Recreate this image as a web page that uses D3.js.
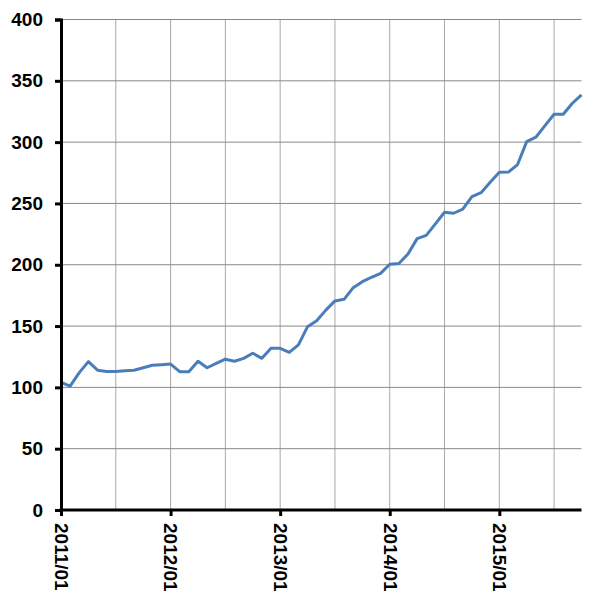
<!DOCTYPE html>
<html>
<head>
<meta charset="utf-8">
<script src="https://cdn.jsdelivr.net/npm/d3@7"></script>
<style>
  html, body { margin: 0; padding: 0; background: #fff; }
  svg { display: block; }
  text { font-family: Arial, "Liberation Sans", sans-serif; font-weight: bold; fill: #000; }
</style>
</head>
<body>
<svg id="chart" width="593" height="603"></svg>
<script>
// ---- data ----
const months = [];
for (let yr = 2011; yr <= 2015; yr++) {
  for (let m = 1; m <= 12; m++) {
    if (yr === 2015 && m > 10) break;
    months.push(yr + "/" + String(m).padStart(2, "0"));
  }
}
const values = [
  104, 101, 112, 121, 114, 113, 113, 113.6, 114, 116, 118, 118.5, 119,
  112.8, 112.8, 121.3, 116, 119.6, 123, 121.3, 123.7, 127.8, 123.7, 131.9,
  131.9, 128.6, 134.6, 149.5, 154.4, 163, 170.5, 171.8, 181.3, 186.2, 189.8,
  193, 200.4, 201, 208.8, 221.3, 224, 233.3, 242.8, 242, 245.3, 255.6, 258.8,
  267.3, 275.4, 275.6, 281.7, 300.4, 304, 313.5, 322.7, 322.7, 331.7, 338.6
];
const yTicks = [0, 50, 100, 150, 200, 250, 300, 350, 400];
const xLabels = ["2011/01", "2012/01", "2013/01", "2014/01", "2015/01"];
const xGrid = months.filter((d, i) => i % 6 === 0 && i > 0);

// ---- layout ----
const mLeft = 61, mRight = 581.5, mTop = 19.5, mBottom = 510;
const svg = d3.select("#chart");

const x = d3.scalePoint().domain(months).range([mLeft, mRight]);
const y = d3.scaleLinear().domain([0, 400]).range([mBottom, mTop]);

// vertical gridlines
svg.append("g").selectAll("line").data(xGrid).join("line")
  .attr("x1", d => x(d)).attr("x2", d => x(d))
  .attr("y1", mTop).attr("y2", mBottom)
  .attr("stroke", "#a8a8a8").attr("stroke-width", 1);

// horizontal gridlines
svg.append("g").selectAll("line").data(yTicks.filter(d => d > 0)).join("line")
  .attr("x1", mLeft).attr("x2", mRight)
  .attr("y1", d => y(d)).attr("y2", d => y(d))
  .attr("stroke", "#888888").attr("stroke-width", 1);

// line
const line = d3.line()
  .x((d, i) => x(months[i]))
  .y(d => y(d));
svg.append("path").datum(values)
  .attr("d", line)
  .attr("fill", "none")
  .attr("stroke", "#4a7ebb")
  .attr("stroke-width", 3)
  .attr("stroke-linejoin", "round");

// y axis
const yAxis = d3.axisLeft(y).tickValues(yTicks).tickSize(6).tickPadding(12).tickFormat(d3.format("d"));
const gy = svg.append("g").attr("transform", `translate(${mLeft},0)`).call(yAxis);
gy.select(".domain").attr("stroke", "#000").attr("stroke-width", 3);
gy.selectAll(".tick line").attr("stroke", "#000").attr("stroke-width", 3);
gy.selectAll(".tick text").attr("font-size", 19).attr("font-weight", "bold")
  .attr("font-family", "Arial, 'Liberation Sans', sans-serif").attr("fill", "#000");

// x axis
const xAxis = d3.axisBottom(x).tickValues(xLabels).tickSize(6).tickSizeOuter(0);
const gx = svg.append("g").attr("transform", `translate(0,${mBottom})`).call(xAxis);
gx.select(".domain").attr("stroke", "#000").attr("stroke-width", 3)
  .attr("d", `M${mLeft - 1.5},0H${mRight}`);
gx.selectAll(".tick line").attr("stroke", "#000").attr("stroke-width", 3);
gx.selectAll(".tick text")
  .attr("font-size", 19).attr("font-weight", "bold")
  .attr("font-family", "Arial, 'Liberation Sans', sans-serif").attr("fill", "#000")
  .attr("text-anchor", "start")
  .attr("dy", "0.35em")
  .attr("transform", "translate(0,13) rotate(90)")
  .attr("x", 0).attr("y", 0);
</script>
</body>
</html>
